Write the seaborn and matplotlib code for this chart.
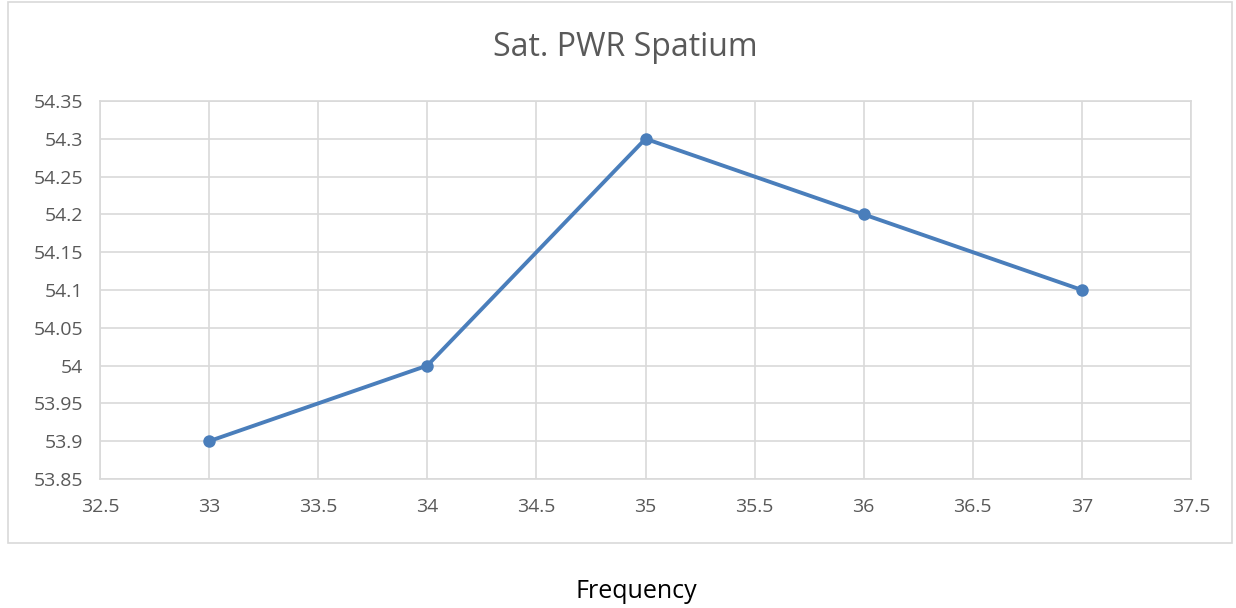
import matplotlib
matplotlib.use("Agg")
import matplotlib.pyplot as plt
import seaborn as sns
import pandas as pd
import numpy as np
from matplotlib.patches import Rectangle

# -----------------------------
# data
# -----------------------------
frequency = [33, 34, 35, 36, 37]
sat_pwr = [53.9, 54.0, 54.3, 54.2, 54.1]
x_ticks = [32.5, 33, 33.5, 34, 34.5, 35, 35.5, 36, 36.5, 37, 37.5]
y_ticks = [53.85, 53.9, 53.95, 54, 54.05, 54.1, 54.15, 54.2, 54.25, 54.3, 54.35]

df = pd.DataFrame({'freq': frequency, 'pwr': sat_pwr})

sns.set_style('white')
plt.rcParams['font.family'] = ['Open Sans', 'DejaVu Sans']

fig = plt.figure(figsize=(12.36, 6.08), dpi=100)
ax = fig.add_axes([0.0809, 0.2122, 0.8827, 0.6217])

sns.lineplot(data=df, x='freq', y='pwr', ax=ax, color='#4a7ebb', linewidth=2.8,
             marker='o', markersize=9, markeredgewidth=0)

ax.set_xlim(32.5, 37.5)
ax.set_ylim(53.85, 54.35)
ax.set_xticks(x_ticks)
ax.set_xticklabels([f'{v:g}' for v in x_ticks])
ax.set_yticks(y_ticks)
ax.set_yticklabels([f'{v:g}' for v in y_ticks])
ax.grid(True, color='#d9d9d9', linewidth=1.2)
ax.set_axisbelow(True)
for s in ax.spines.values():
    s.set_color('#d9d9d9')
    s.set_linewidth(1.2)
ax.tick_params(length=0, labelsize=14, colors='#595959')
ax.tick_params(axis='x', pad=14)
ax.tick_params(axis='y', pad=12)
ax.set_xlabel('')
ax.set_ylabel('')

# chart border + title
fig.patches.append(Rectangle((8/1236, 1 - 543/608), 1224/1236, 541/608,
                             transform=fig.transFigure, fill=False,
                             edgecolor='#d9d9d9', linewidth=1.2))
fig.text(0.506, 1 - 47/608, 'Sat. PWR Spatium', ha='center', va='center',
         fontsize=23, color='#595959')
fig.text(0.515, 1 - 592/608, 'Frequency', ha='center', va='center',
         fontsize=18, color='black')

plt.savefig('out.png', dpi=100)
plt.close()
